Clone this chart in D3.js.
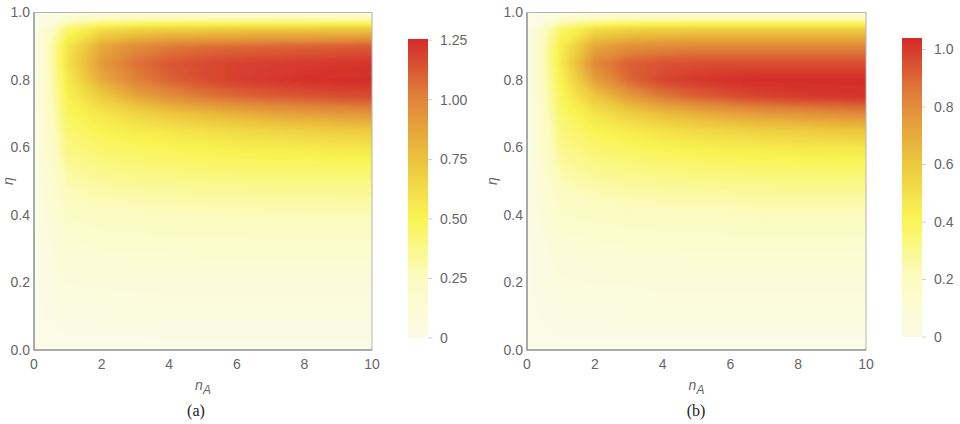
<!DOCTYPE html>
<html>
<head>
<meta charset="utf-8">
<script src="https://cdn.jsdelivr.net/npm/d3@7"></script>
<style>
  body { margin: 0; background: #fff; }
</style>
</head>
<body>
<div id="container"></div>
<script>
/* CONSTANTS AND DATA */
const width = 960, height = 424;

// grid columns (n_A) and rows (eta, listed top-down)
const nA  = [0, 1, 2, 3, 4, 5, 6, 7, 8, 9, 10];
const eta = [1.00, 0.95, 0.90, 0.85, 0.80, 0.75, 0.70, 0.65, 0.60, 0.55, 0.50,
             0.45, 0.40, 0.35, 0.30, 0.25, 0.20, 0.15, 0.10, 0.05, 0.00];

// panel (a) values, one row per eta
const gridA = [
  [0, 0.03, 0.04, 0.05, 0.05, 0.05, 0.05, 0.05, 0.05, 0.05, 0.05],
  [0, 0.45, 0.62, 0.67, 0.69, 0.70, 0.71, 0.72, 0.72, 0.73, 0.73],
  [0, 0.58, 0.86, 0.97, 1.03, 1.06, 1.08, 1.09, 1.10, 1.11, 1.12],
  [0, 0.60, 0.92, 1.06, 1.13, 1.17, 1.19, 1.20, 1.21, 1.22, 1.23],
  [0, 0.56, 0.85, 1.01, 1.10, 1.16, 1.20, 1.22, 1.24, 1.25, 1.25],
  [0, 0.52, 0.70, 0.86, 0.96, 1.03, 1.08, 1.11, 1.13, 1.15, 1.16],
  [0, 0.48, 0.58, 0.66, 0.73, 0.78, 0.83, 0.87, 0.90, 0.92, 0.94],
  [0, 0.44, 0.51, 0.55, 0.58, 0.61, 0.64, 0.66, 0.68, 0.70, 0.72],
  [0, 0.40, 0.45, 0.48, 0.50, 0.52, 0.54, 0.55, 0.56, 0.57, 0.58],
  [0, 0.35, 0.40, 0.42, 0.44, 0.45, 0.46, 0.47, 0.47, 0.48, 0.48],
  [0, 0.30, 0.34, 0.36, 0.37, 0.38, 0.39, 0.39, 0.40, 0.40, 0.40],
  [0, 0.25, 0.29, 0.30, 0.31, 0.32, 0.32, 0.33, 0.33, 0.33, 0.34],
  [0, 0.21, 0.24, 0.25, 0.26, 0.26, 0.27, 0.27, 0.27, 0.28, 0.28],
  [0, 0.16, 0.19, 0.20, 0.21, 0.21, 0.21, 0.22, 0.22, 0.22, 0.22],
  [0, 0.13, 0.15, 0.16, 0.16, 0.17, 0.17, 0.17, 0.17, 0.17, 0.17],
  [0, 0.10, 0.11, 0.12, 0.12, 0.13, 0.13, 0.13, 0.13, 0.13, 0.13],
  [0, 0.07, 0.08, 0.08, 0.09, 0.09, 0.09, 0.09, 0.09, 0.09, 0.09],
  [0, 0.04, 0.05, 0.06, 0.06, 0.06, 0.06, 0.06, 0.06, 0.06, 0.06],
  [0, 0.03, 0.03, 0.04, 0.04, 0.04, 0.04, 0.04, 0.04, 0.04, 0.04],
  [0, 0.01, 0.01, 0.01, 0.02, 0.02, 0.02, 0.02, 0.02, 0.02, 0.02],
  [0, 0, 0, 0, 0, 0, 0, 0, 0, 0, 0]
];

// panel (b) values
const gridB = [
  [0, 0.02, 0.03, 0.04, 0.04, 0.04, 0.04, 0.04, 0.04, 0.04, 0.04],
  [0, 0.38, 0.52, 0.56, 0.57, 0.58, 0.58, 0.58, 0.58, 0.58, 0.58],
  [0, 0.45, 0.72, 0.79, 0.81, 0.82, 0.82, 0.82, 0.82, 0.82, 0.82],
  [0, 0.46, 0.82, 0.92, 0.95, 0.96, 0.96, 0.96, 0.96, 0.96, 0.96],
  [0, 0.43, 0.74, 0.90, 0.98, 1.01, 1.03, 1.04, 1.04, 1.04, 1.04],
  [0, 0.40, 0.60, 0.75, 0.85, 0.91, 0.95, 0.98, 1.00, 1.01, 1.02],
  [0, 0.37, 0.49, 0.57, 0.64, 0.69, 0.73, 0.76, 0.78, 0.80, 0.82],
  [0, 0.34, 0.42, 0.46, 0.50, 0.53, 0.55, 0.57, 0.58, 0.60, 0.61],
  [0, 0.31, 0.37, 0.40, 0.42, 0.44, 0.45, 0.46, 0.47, 0.47, 0.48],
  [0, 0.27, 0.32, 0.34, 0.36, 0.37, 0.38, 0.39, 0.39, 0.40, 0.40],
  [0, 0.23, 0.27, 0.29, 0.30, 0.31, 0.32, 0.32, 0.33, 0.33, 0.33],
  [0, 0.19, 0.22, 0.24, 0.25, 0.26, 0.26, 0.27, 0.27, 0.27, 0.27],
  [0, 0.16, 0.18, 0.20, 0.20, 0.21, 0.21, 0.22, 0.22, 0.22, 0.22],
  [0, 0.12, 0.14, 0.15, 0.16, 0.16, 0.17, 0.17, 0.17, 0.17, 0.17],
  [0, 0.09, 0.11, 0.12, 0.12, 0.13, 0.13, 0.13, 0.13, 0.13, 0.13],
  [0, 0.07, 0.08, 0.09, 0.09, 0.10, 0.10, 0.10, 0.10, 0.10, 0.10],
  [0, 0.05, 0.06, 0.06, 0.07, 0.07, 0.07, 0.07, 0.07, 0.07, 0.07],
  [0, 0.03, 0.04, 0.04, 0.05, 0.05, 0.05, 0.05, 0.05, 0.05, 0.05],
  [0, 0.02, 0.02, 0.03, 0.03, 0.03, 0.03, 0.03, 0.03, 0.03, 0.03],
  [0, 0.01, 0.01, 0.01, 0.01, 0.01, 0.01, 0.01, 0.01, 0.01, 0.01],
  [0, 0, 0, 0, 0, 0, 0, 0, 0, 0, 0]
];

const xTicks = [0, 2, 4, 6, 8, 10];
const yTicks = [0, 0.2, 0.4, 0.6, 0.8, 1.0];
const barTicksA = [0, 0.25, 0.5, 0.75, 1.0, 1.25];
const barTicksB = [0, 0.2, 0.4, 0.6, 0.8, 1.0];
const maxA = 1.255, maxB = 1.04;

// colour function stops (fraction of the panel maximum)
const colorStops = [0, 0.2, 0.4, 0.6, 0.8, 1];
const colorRange = ["#fbfbe6", "#fcfbc0", "#f9f452", "#ebc23c", "#e0843a", "#d42a2a"];

const sans = "'Liberation Sans', Arial, sans-serif";
const serif = "'Liberation Serif', 'DejaVu Serif', serif";

const panels = [
  { id: "a", grid: gridA, max: maxA, left: 34, right: 372, top: 12.5, bottom: 350,
    bar: { x: 408, top: 39, bottom: 338 }, barTicks: barTicksA,
    barFmt: d => d === 0 ? "0" : d3.format(".2f")(d), label: "(a)", labelX: 196, etaX: 13 },
  { id: "b", grid: gridB, max: maxB, left: 527, right: 866, top: 12.5, bottom: 350,
    bar: { x: 902, top: 38, bottom: 337 }, barTicks: barTicksB,
    barFmt: d => d === 0 ? "0" : d3.format(".1f")(d), label: "(b)", labelX: 696, etaX: 497 }
];

/* SVG */
const svg = d3.select("#container")
  .append("svg")
  .attr("width", width)
  .attr("height", height)
  .style("font-family", sans);

const defs = svg.append("defs");
defs.append("filter").attr("id", "soft")
  .attr("x", "-5%").attr("y", "-5%").attr("width", "110%").attr("height", "110%")
  .append("feGaussianBlur").attr("stdDeviation", 1.2);

panels.forEach(p => {
  const x = d3.scaleLinear().domain([0, 10]).range([p.left, p.right]);
  const y = d3.scaleLinear().domain([0, 1]).range([p.bottom, p.top]);
  const color = d3.scaleLinear()
    .domain(colorStops.map(t => t * p.max))
    .range(colorRange)
    .clamp(true);

  // contour grid: row 0 = eta 0
  const nx = nA.length, ny = eta.length;
  const values = p.grid.slice().reverse().flat();
  const cx = d3.scaleLinear().domain([0.5, nx - 0.5]).range([x(nA[0]), x(nA[nx - 1])]);
  const cy = d3.scaleLinear().domain([0.5, ny - 0.5]).range([y(d3.min(eta)), y(d3.max(eta))]);
  const pathGen = d3.geoPath(d3.geoTransform({
    point(px, py) { this.stream.point(cx(px), cy(py)); }
  }));
  const thresholds = d3.range(1, 160).map(i => i * p.max / 160);
  const contours = d3.contours().size([nx, ny]).thresholds(thresholds)(values);

  defs.append("clipPath").attr("id", "clip-" + p.id)
    .append("rect")
    .attr("x", p.left).attr("y", p.top)
    .attr("width", p.right - p.left).attr("height", p.bottom - p.top);

  const plot = svg.append("g").attr("clip-path", `url(#clip-${p.id})`);
  const inner = plot.append("g").attr("filter", "url(#soft)");
  inner.append("rect")
    .attr("x", p.left - 10).attr("y", p.top - 10)
    .attr("width", p.right - p.left + 20).attr("height", p.bottom - p.top + 20)
    .attr("fill", color(0));
  inner.selectAll("path")
    .data(contours)
    .join("path")
    .attr("d", pathGen)
    .attr("fill", d => color(d.value));

  // frame
  svg.append("rect")
    .attr("x", p.left).attr("y", p.top)
    .attr("width", p.right - p.left).attr("height", p.bottom - p.top)
    .attr("fill", "none").attr("stroke", "#b4b4b4").attr("stroke-width", 1);
  svg.append("path")
    .attr("d", `M${p.left},${p.top}V${p.bottom}H${p.right}`)
    .attr("fill", "none").attr("stroke", "#9a9a9a").attr("stroke-width", 1.5);

  // tick labels
  svg.append("g").selectAll("text")
    .data(yTicks).join("text")
    .attr("x", p.left - 4).attr("y", d => y(d))
    .attr("dy", "0.35em").attr("text-anchor", "end")
    .attr("font-size", 14).attr("fill", "#666")
    .text(d => d3.format(".1f")(d));
  svg.append("g").selectAll("text")
    .data(xTicks).join("text")
    .attr("x", d => x(d)).attr("y", p.bottom + 14)
    .attr("dy", "0.35em").attr("text-anchor", "middle")
    .attr("font-size", 14).attr("fill", "#666")
    .text(d => d);

  // axis labels
  const xl = svg.append("text")
    .attr("x", (p.left + p.right) / 2).attr("y", 390)
    .attr("text-anchor", "middle")
    .attr("font-size", 14).attr("fill", "#666")
    .attr("font-style", "italic");
  xl.append("tspan").text("n");
  xl.append("tspan").attr("dy", 4).attr("font-size", 12).text("A");

  svg.append("text")
    .attr("transform", `translate(${p.etaX},181) rotate(-90)`)
    .attr("text-anchor", "middle")
    .attr("font-size", 14).attr("fill", "#666")
    .attr("font-style", "italic")
    .text("η");

  svg.append("text")
    .attr("x", p.labelX).attr("y", 416)
    .attr("text-anchor", "middle")
    .style("font-family", serif)
    .attr("font-size", 16).attr("fill", "#222")
    .text(p.label);

  // colour bar
  const barY = d3.scaleLinear().domain([0, p.max]).range([p.bar.bottom, p.bar.top]);
  const grad = defs.append("linearGradient").attr("id", "grad-" + p.id)
    .attr("x1", 0).attr("y1", 1).attr("x2", 0).attr("y2", 0);
  grad.selectAll("stop")
    .data(d3.range(0, 1.0001, 0.05))
    .join("stop")
    .attr("offset", d => d)
    .attr("stop-color", d => color(d * p.max));
  svg.append("rect")
    .attr("x", p.bar.x).attr("y", p.bar.top)
    .attr("width", 20).attr("height", p.bar.bottom - p.bar.top)
    .attr("fill", `url(#grad-${p.id})`);
  svg.append("g").selectAll("line")
    .data(p.barTicks).join("line")
    .attr("x1", p.bar.x + 20).attr("x2", p.bar.x + 24)
    .attr("y1", d => barY(d)).attr("y2", d => barY(d))
    .attr("stroke", "#d0d0d0");
  svg.append("g").selectAll("text")
    .data(p.barTicks).join("text")
    .attr("x", p.bar.x + 32).attr("y", d => barY(d))
    .attr("dy", "0.35em")
    .attr("font-size", 14).attr("fill", "#666")
    .text(p.barFmt);
});
</script>
</body>
</html>
